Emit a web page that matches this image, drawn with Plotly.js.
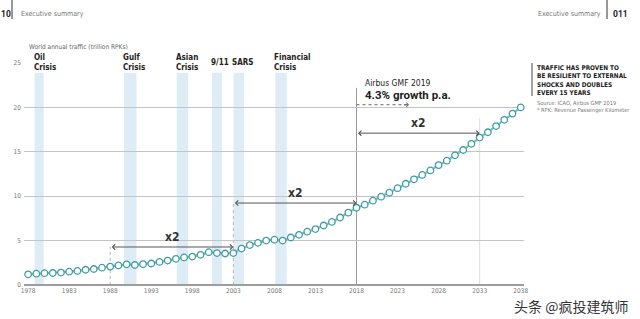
<!DOCTYPE html>
<html>
<head>
<meta charset="utf-8">
<script src="https://cdn.plot.ly/plotly-3.0.1.min.js"></script>
<style>
  html, body { margin: 0; padding: 0; background: #fff; }
  #chart { width: 640px; height: 319px; }
</style>
</head>
<body>
<div id="chart"></div>
<script>
// World annual traffic, trillion RPKs (history + Airbus GMF 2019 forecast)
const years = [
  1978, 1979, 1980, 1981, 1982, 1983, 1984, 1985, 1986, 1987,
  1988, 1989, 1990, 1991, 1992, 1993, 1994, 1995, 1996, 1997,
  1998, 1999, 2000, 2001, 2002, 2003, 2004, 2005, 2006, 2007,
  2008, 2009, 2010, 2011, 2012, 2013, 2014, 2015, 2016, 2017,
  2018, 2019, 2020, 2021, 2022, 2023, 2024, 2025, 2026, 2027,
  2028, 2029, 2030, 2031, 2032, 2033, 2034, 2035, 2036, 2037, 2038
];
const traffic = [
  1.20, 1.27, 1.33, 1.35, 1.40, 1.50, 1.58, 1.72, 1.80, 1.95,
  2.07, 2.20, 2.33, 2.25, 2.35, 2.42, 2.60, 2.75, 2.95, 3.10,
  3.20, 3.40, 3.70, 3.60, 3.55, 3.60, 4.10, 4.50, 4.75, 5.00,
  5.10, 5.00, 5.35, 5.65, 6.00, 6.30, 6.70, 7.10, 7.60, 8.15,
  8.70, 9.05, 9.50, 9.95, 10.40, 10.90, 11.40, 11.90, 12.40, 12.90,
  13.50, 14.00, 14.60, 15.20, 15.90, 16.60, 17.20, 17.90, 18.60, 19.30, 20.00
];

// Crisis periods shaded behind the series
const crisisNames = ['Oil<br>Crisis', 'Gulf<br>Crisis', 'Asian<br>Crisis', '9/11', 'SARS', 'Financial<br>Crisis'];
const crisisStart = [1978.8, 1989.7, 1996.1, 2000.4, 2003.0, 2008.1];
const crisisEnd   = [1979.9, 1991.2, 1997.5, 2001.6, 2004.3, 2009.5];

// Doubling periods: [from, to, arrow level]
const doubleFrom  = [1988, 2003, 2018];
const doubleTo    = [2003, 2018, 2033];
const doubleLevel = [4.28, 9.23, 17.1];

const xTicks = [1978, 1983, 1988, 1993, 1998, 2003, 2008, 2013, 2018, 2023, 2028, 2033, 2038];
const yTicks = [0, 5, 10, 15, 20, 25];

const NARROW = '"Liberation Sans Narrow", "DejaVu Sans Condensed", "Roboto Condensed", "Arial Narrow", sans-serif';
const PLAIN = 'Roboto, "Liberation Sans", Arial, sans-serif';

// pixel helpers for page furniture (plot area spans x 24..524, y 63..285)
const px = p => (p - 24) / 500;
const py = p => (285 - p) / 222;

const shapes = [];
const annotations = [];

crisisStart.forEach((s, i) => {
  shapes.push({
    type: 'rect', xref: 'x', yref: 'y', layer: 'below',
    x0: s, x1: crisisEnd[i], y0: 0, y1: 23.9,
    fillcolor: '#deedf5', line: { width: 0 }
  });
  annotations.push({
    xref: 'x', yref: 'y', x: s, y: 25, xanchor: 'left', yanchor: 'middle',
    xshift: -2, yshift: 1, text: '<b>' + crisisNames[i] + '</b>', showarrow: false, align: 'left',
    bgcolor: '#ffffff', borderpad: 0,
    font: { family: NARROW, size: 8, color: '#222' }
  });
});

// forecast start and doubling markers
shapes.push({ type: 'line', xref: 'x', yref: 'y', x0: 2018, x1: 2018, y0: 0, y1: 22.2,
  line: { color: '#9a9a9a', width: 1 }, layer: 'below' });
shapes.push({ type: 'line', xref: 'x', yref: 'y', x0: 2033, x1: 2033, y0: 0, y1: 18.8,
  line: { color: '#dddddd', width: 1 }, layer: 'below' });
shapes.push({ type: 'line', xref: 'x', yref: 'y', x0: 1988, x1: 1988, y0: 0, y1: 4.28,
  line: { color: '#b5b5b5', width: 1, dash: 'dot' }, layer: 'below' });
shapes.push({ type: 'line', xref: 'x', yref: 'y', x0: 2003, x1: 2003, y0: 0, y1: 9.23,
  line: { color: '#b5b5b5', width: 1, dash: 'dot' }, layer: 'below' });

doubleFrom.forEach((f, i) => {
  annotations.push({
    xref: 'x', yref: 'y', axref: 'x', ayref: 'y',
    x: doubleTo[i], y: doubleLevel[i], ax: f, ay: doubleLevel[i],
    text: '', showarrow: true, arrowhead: 4, arrowside: 'end+start',
    arrowsize: 1, arrowwidth: 1, arrowcolor: '#555'
  });
  annotations.push({
    xref: 'x', yref: 'y', x: (f + doubleTo[i]) / 2, y: doubleLevel[i],
    yanchor: 'bottom', yshift: 1, text: '<b>x2</b>', showarrow: false,
    font: { family: NARROW, size: 12, color: '#333' }
  });
});

// forecast callout: dotted growth arrow
shapes.push({ type: 'line', xref: 'x', yref: 'y', x0: 2018, x1: 2024.3, y0: 20.3, y1: 20.3,
  line: { color: '#666', width: 1, dash: 'dot' } });
annotations.push({
  xref: 'x', yref: 'y', axref: 'x', ayref: 'y',
  x: 2024.4, y: 20.3, ax: 2023.6, ay: 20.3, text: '', showarrow: true,
  arrowhead: 4, arrowsize: 0.8, arrowwidth: 1, arrowcolor: '#666', standoff: 0
});
annotations.push({
  xref: 'x', yref: 'y', x: 2018.8, y: 22.75, xanchor: 'left', yanchor: 'middle',
  text: 'Airbus GMF 2019', showarrow: false,
  font: { family: NARROW, size: 8.5, color: '#222' }
});
annotations.push({
  xref: 'x', yref: 'y', x: 2018.8, y: 21.4, xanchor: 'left', yanchor: 'middle',
  text: '<b>4.3% growth p.a.</b>', showarrow: false,
  font: { family: PLAIN, size: 11.5, color: '#222' }
});

// axis caption
annotations.push({
  xref: 'paper', yref: 'paper', x: px(27), y: py(47), xanchor: 'left', yanchor: 'middle',
  text: 'World annual traffic (trillion RPKs)', showarrow: false,
  font: { family: NARROW, size: 6.5, color: '#666' }
});

// side note
shapes.push({ type: 'line', xref: 'paper', yref: 'paper', x0: px(532), x1: px(532), y0: py(63), y1: py(96),
  line: { color: '#444', width: 1 } });
annotations.push({
  xref: 'paper', yref: 'paper', x: px(535), y: py(62), xanchor: 'left', yanchor: 'top',
  text: '<b>TRAFFIC HAS PROVEN TO<br>BE RESILIENT TO EXTERNAL<br>SHOCKS AND DOUBLES<br>EVERY 15 YEARS</b>',
  showarrow: false, align: 'left',
  font: { family: NARROW, size: 6.4, color: '#222' }
});
annotations.push({
  xref: 'paper', yref: 'paper', x: px(535), y: py(98), xanchor: 'left', yanchor: 'top',
  text: 'Source: ICAO, Airbus GMF 2019<br>* RPK: Revenue Passenger Kilometer',
  showarrow: false, align: 'left',
  font: { family: NARROW, size: 5.6, color: '#777' }
});

// page header
shapes.push({ type: 'line', xref: 'paper', yref: 'paper', x0: px(12), x1: px(12), y0: py(0), y1: py(19),
  line: { color: '#333', width: 1 } });
shapes.push({ type: 'line', xref: 'paper', yref: 'paper', x0: px(607), x1: px(607), y0: py(0), y1: py(19),
  line: { color: '#333', width: 1 } });
annotations.push({
  xref: 'paper', yref: 'paper', x: px(-1), y: py(14), xanchor: 'left', yanchor: 'middle',
  text: '<b>10</b>', showarrow: false, font: { family: PLAIN, size: 8.5, color: '#222' }
});
annotations.push({
  xref: 'paper', yref: 'paper', x: px(19), y: py(14), xanchor: 'left', yanchor: 'middle',
  text: 'Executive summary', showarrow: false, font: { family: NARROW, size: 7, color: '#777' }
});
annotations.push({
  xref: 'paper', yref: 'paper', x: px(603), y: py(14), xanchor: 'right', yanchor: 'middle',
  text: 'Executive summary', showarrow: false, font: { family: NARROW, size: 7, color: '#777' }
});
annotations.push({
  xref: 'paper', yref: 'paper', x: px(611), y: py(14), xanchor: 'left', yanchor: 'middle',
  text: '<b>011</b>', showarrow: false, font: { family: PLAIN, size: 8.5, color: '#222' }
});

// publisher mark
annotations.push({
  xref: 'paper', yref: 'paper', x: px(630), y: py(306), xanchor: 'right', yanchor: 'middle',
  text: '头条 @疯投建筑师', showarrow: false,
  font: { family: '"Noto Sans CJK SC", sans-serif', size: 14, color: '#333' }
});

const trace = {
  x: years, y: traffic, type: 'scatter', mode: 'lines+markers',
  line: { color: '#6cc8d0', width: 2.2 },
  marker: { symbol: 'circle', size: 6.5, color: '#ffffff', line: { color: '#3f9aa3', width: 1.3 } },
  cliponaxis: false, hoverinfo: 'skip'
};

const layout = {
  width: 640, height: 319,
  margin: { l: 24, r: 116, t: 63, b: 34, pad: 0 },
  paper_bgcolor: '#ffffff', plot_bgcolor: '#ffffff',
  showlegend: false,
  xaxis: {
    range: [1977.5, 2038.4], tickvals: xTicks, ticktext: xTicks.map(String),
    showgrid: false, zeroline: false, showline: false, ticks: '',
    tickfont: { family: NARROW, size: 6.5, color: '#777' }, fixedrange: true
  },
  yaxis: {
    range: [0, 25], tickvals: yTicks, showgrid: true, gridcolor: '#c4c4c4', gridwidth: 1,
    zeroline: true, zerolinecolor: '#9d9d9d', zerolinewidth: 2.5,
    showline: false, ticks: '', ticklabelstandoff: 2,
    tickfont: { family: NARROW, size: 6.5, color: '#777' }, fixedrange: true
  },
  shapes: shapes,
  annotations: annotations
};

Plotly.newPlot('chart', [trace], layout, { displayModeBar: false, staticPlot: true });
</script>
</body>
</html>
